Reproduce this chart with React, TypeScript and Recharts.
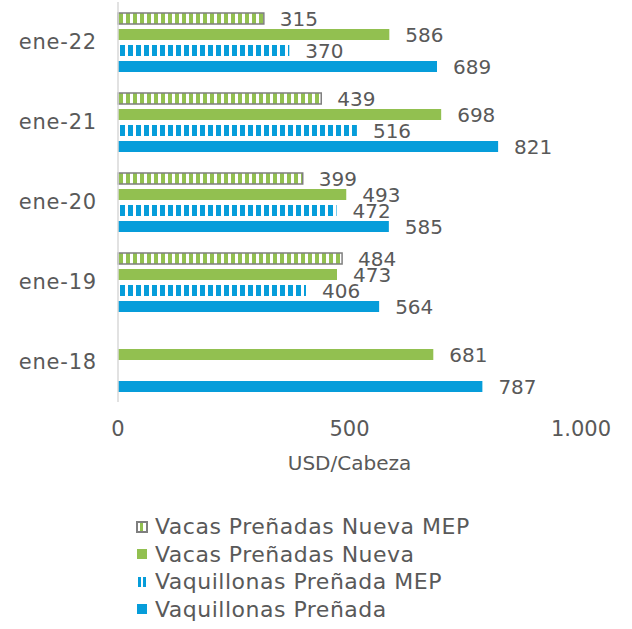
import React from 'react';
import { BarChart, Bar, XAxis, YAxis, LabelList } from 'recharts';

const categories = ['ene-22', 'ene-21', 'ene-20', 'ene-19', 'ene-18'];
const vacasMep = [315, 439, 399, 484, null];
const vacas = [586, 698, 493, 473, 681];
const vaqMep = [370, 516, 472, 406, null];
const vaq = [689, 821, 585, 564, 787];
const xTicks = [0, 500, 1000];

const GREEN = '#92c050';
const BLUE = '#069dda';
const GRAY_TEXT = '#595959';
const FONT = '"DejaVu Sans", sans-serif';

const data = categories.map((cat, i) => ({
  cat,
  vacasMep: vacasMep[i],
  vacas: vacas[i],
  vaqMep: vaqMep[i],
  vaq: vaq[i],
}));

const fmt = (v: number) => v.toLocaleString('de-DE');

// value label at the end of each bar, skips empty cells
const ValueLabel = (props: any) => {
  const { x, y, width, height, value } = props;
  if (value === null || value === undefined) return null;
  return (
    <text
      x={x + width + 16}
      y={y + height / 2}
      dy="0.36em"
      fill={GRAY_TEXT}
      fontSize={20}
      fontFamily={FONT}
    >
      {value}
    </text>
  );
};

const legendItems = [
  { name: 'Vacas Preñadas Nueva MEP', kind: 'greenMep' },
  { name: 'Vacas Preñadas Nueva', kind: 'green' },
  { name: 'Vaquillonas Preñada MEP', kind: 'blueMep' },
  { name: 'Vaquillonas Preñada', kind: 'blue' },
];

const Marker = ({ kind }: { kind: string }) => (
  <svg width={12} height={12} style={{ marginRight: 7, flex: 'none' }}>
    {kind === 'greenMep' && (
      <>
        <rect x={1} y={1} width={10} height={10} fill="#fff" stroke="#7f7f7f" strokeWidth={2} />
        <rect x={4} y={2} width={3} height={8} fill={GREEN} />
      </>
    )}
    {kind === 'green' && <rect x={1} y={1} width={10} height={10} fill={GREEN} />}
    {kind === 'blueMep' && (
      <>
        <rect x={2} y={1} width={3} height={10} fill={BLUE} />
        <rect x={7} y={1} width={3} height={10} fill={BLUE} />
      </>
    )}
    {kind === 'blue' && <rect x={1} y={1} width={10} height={10} fill={BLUE} />}
  </svg>
);

export default function App() {
  return (
    <div style={{ position: 'absolute', left: 0, top: 0, width: 632, height: 629, background: '#fff' }}>
      <BarChart
        width={632}
        height={629}
        data={data}
        layout="vertical"
        margin={{ top: 2, right: 51, left: 0, bottom: 157 }}
        barSize={11}
        barGap={5}
      >
        <defs>
          <pattern id="greenStripes" patternUnits="userSpaceOnUse" width={7} height={20}>
            <rect x={0} y={0} width={7} height={20} fill="#fff" />
            <rect x={0} y={0} width={4} height={20} fill={GREEN} />
          </pattern>
          <pattern id="blueStripes" patternUnits="userSpaceOnUse" width={8} height={20}>
            <rect x={0} y={0} width={8} height={20} fill="#fff" />
            <rect x={0} y={0} width={5} height={20} fill={BLUE} />
          </pattern>
        </defs>
        <XAxis
          type="number"
          domain={[0, 1000]}
          ticks={xTicks}
          tickFormatter={fmt}
          axisLine={false}
          tickLine={false}
          tickSize={0}
          tickMargin={19}
          height={70}
          tick={{ fill: GRAY_TEXT, fontSize: 21, fontFamily: FONT }}
          label={{
            value: 'USD/Cabeza',
            position: 'insideBottom',
            offset: 2,
            fill: GRAY_TEXT,
            fontSize: 20,
            fontFamily: FONT,
          }}
        />
        <YAxis
          type="category"
          dataKey="cat"
          width={118}
          axisLine={{ stroke: '#d9d9d9', strokeWidth: 1.5 }}
          tickLine={false}
          tickSize={0}
          tickMargin={21}
          tick={{ fill: GRAY_TEXT, fontSize: 21, fontFamily: FONT, letterSpacing: 0.8 }}
        />
        <Bar dataKey="vacasMep" fill="url(#greenStripes)" stroke="#7f7f7f" strokeWidth={1.5} isAnimationActive={false}>
          <LabelList dataKey="vacasMep" content={<ValueLabel />} />
        </Bar>
        <Bar dataKey="vacas" fill={GREEN} isAnimationActive={false}>
          <LabelList dataKey="vacas" content={<ValueLabel />} />
        </Bar>
        <Bar dataKey="vaqMep" fill="url(#blueStripes)" isAnimationActive={false}>
          <LabelList dataKey="vaqMep" content={<ValueLabel />} />
        </Bar>
        <Bar dataKey="vaq" fill={BLUE} isAnimationActive={false}>
          <LabelList dataKey="vaq" content={<ValueLabel />} />
        </Bar>
      </BarChart>
      <div style={{ position: 'absolute', left: 136, top: 513, fontFamily: FONT, fontSize: 22, letterSpacing: 0.5, color: GRAY_TEXT }}>
        {legendItems.map((item) => (
          <div key={item.name} style={{ display: 'flex', alignItems: 'center', height: 27.5, whiteSpace: 'nowrap' }}>
            <Marker kind={item.kind} />
            <span>{item.name}</span>
          </div>
        ))}
      </div>
    </div>
  );
}
